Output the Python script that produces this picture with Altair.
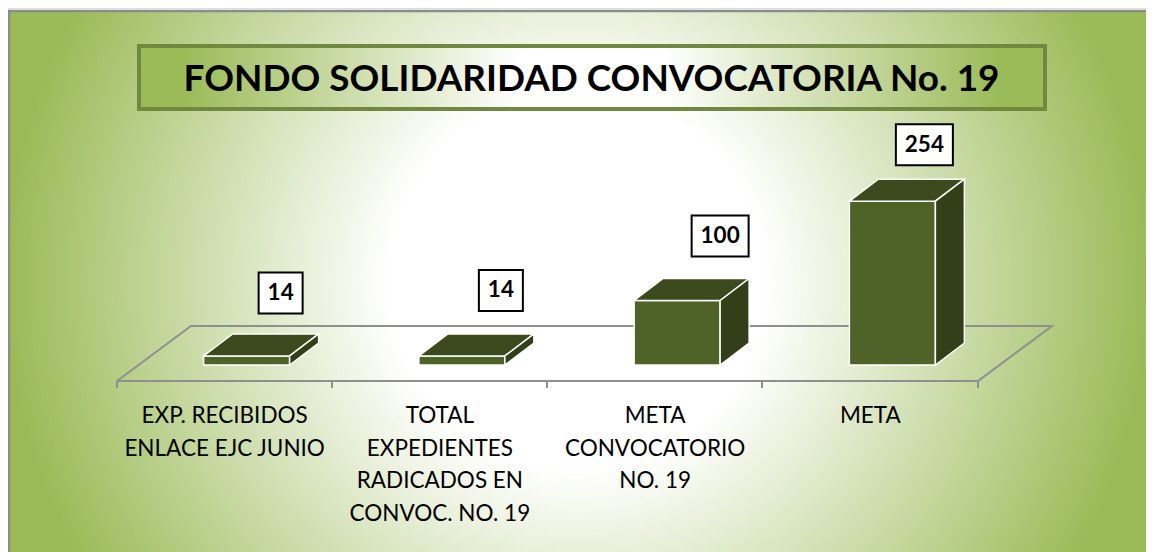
import altair as alt
import pandas as pd

categories = ["EXP. RECIBIDOS\nENLACE EJC JUNIO",
              "TOTAL\nEXPEDIENTES\nRADICADOS EN\nCONVOC. NO. 19",
              "META\nCONVOCATORIO\nNO. 19",
              "META"]
values = [14, 14, 100, 254]
title_text = "FONDO SOLIDARIDAD CONVOCATORIA No. 19"

W, H = 1138, 544
PXU = 0.645            # px per value unit
CAT = 215.25           # px per category
X0_PAGE, Y0_PAGE = 117, 365
x_domain = [(8 - X0_PAGE) / CAT, (8 + W - X0_PAGE) / CAT]
y_domain = [(Y0_PAGE - (8 + H)) / PXU, (Y0_PAGE - 8) / PXU]
xs = alt.Scale(domain=x_domain, range=[0, W], nice=False, zero=False)
ys = alt.Scale(domain=y_domain, range=[H, 0], nice=False, zero=False)
X = lambda px: (px - X0_PAGE) / CAT
Y = lambda py: (Y0_PAGE - py) / PXU

BAR_W = 86 / CAT
BAR_SHIFT = 22 / CAT
DX = 29 / CAT
DY = 22 / PXU

# label-box placement relative to bar (px)
box_dx = [34, 39, 43, 32]
box_dy = [63, 65.5, 64.5, 56.5]
box_w = [44, 44, 57, 57]
BOX_H = 41

front, top, side, boxes, cats = [], [], [], [], []
for i, (c, v) in enumerate(zip(categories, values)):
    x0 = i + 0.5 + BAR_SHIFT - BAR_W / 2
    x1 = x0 + BAR_W
    front.append(dict(x=x0, x2=x1, y=v, y2=0))
    side += [dict(b=i, x=x1, y=v, y2=0), dict(b=i, x=x1 + DX, y=v + DY, y2=DY)]
    top += [dict(b=i, x=x0, y=v, y2=v),
            dict(b=i, x=x0 + DX, y=v + DY, y2=v),
            dict(b=i, x=x1, y=v + DY, y2=v),
            dict(b=i, x=x1 + DX, y=v + DY, y2=v + DY)]
    cx = (x0 + x1) / 2 + box_dx[i] / CAT
    cy = v + box_dy[i] / PXU
    boxes.append(dict(x=cx - box_w[i] / 2 / CAT, x2=cx + box_w[i] / 2 / CAT,
                      y=cy - BOX_H / 2 / PXU, y2=cy + BOX_H / 2 / PXU,
                      cx=cx, cy=cy, label=str(v)))
    cats.append(dict(x=i + 0.5, y=Y(405), label=c))

GREEN = "#9bbb59"
GRID = "#8f8f8f"
STROKE = "white"


def rect_layer(rows, **mark):
    return alt.Chart(pd.DataFrame(rows)).mark_rect(**mark).encode(
        x=alt.X("x:Q", scale=xs, axis=None), x2="x2:Q",
        y=alt.Y("y:Q", scale=ys, axis=None), y2="y2:Q")


def area_layer(rows, color):
    return alt.Chart(pd.DataFrame(rows)).mark_area(
        fill=color, stroke=STROKE, strokeWidth=1.5, opacity=1, interpolate="linear"
    ).encode(x=alt.X("x:Q", scale=xs, axis=None),
             y=alt.Y("y:Q", scale=ys, axis=None), y2="y2:Q",
             detail="b:N")


def line_layer(segments, width=2, color=GRID):
    rows = [dict(s=k, o=j, x=X(p[0]), y=Y(p[1]))
            for k, seg in enumerate(segments) for j, p in enumerate(seg)]
    return alt.Chart(pd.DataFrame(rows)).mark_line(
        color=color, strokeWidth=width, interpolate="linear"
    ).encode(x=alt.X("x:Q", scale=xs, axis=None),
             y=alt.Y("y:Q", scale=ys, axis=None),
             detail="s:N", order="o:Q")


bg = rect_layer(
    [dict(x=X(8), x2=X(1146), y=Y(10), y2=Y(552))],
    fill=alt.RadialGradient(
        gradient="radial", x1=0.5, y1=0.5, r1=0, x2=0.5, y2=0.5, r2=0.5,
        stops=[alt.GradientStop(color="#ffffff", offset=0),
               alt.GradientStop(color="#ffffff", offset=0.33),
               alt.GradientStop(color=GREEN, offset=1)]),
)
frame = line_layer([[(9, 552), (9, 11), (1146, 11)]], width=2.5, color="#8c8c8c")

title_box = rect_layer(
    [dict(x=X(139), x2=X(1045), y=Y(46), y2=Y(109))],
    fill=alt.LinearGradient(
        gradient="linear", x1=0, y1=0, x2=1, y2=0,
        stops=[alt.GradientStop(color=GREEN, offset=0),
               alt.GradientStop(color=GREEN, offset=0.05),
               alt.GradientStop(color="#ffffff", offset=0.42),
               alt.GradientStop(color="#ffffff", offset=0.58),
               alt.GradientStop(color=GREEN, offset=0.95),
               alt.GradientStop(color=GREEN, offset=1)]),
    stroke="#70883f", strokeWidth=4,
)
title = alt.Chart(pd.DataFrame([dict(x=X(591.5), y=Y(80), t=title_text)])).mark_text(
    font="Lato", fontSize=36.9, fontWeight="bold", color="black", align="center", baseline="middle"
).encode(x=alt.X("x:Q", scale=xs, axis=None), y=alt.Y("y:Q", scale=ys, axis=None), text="t:N")

floor = line_layer(
    [[(117, 381), (191, 326), (1052, 326), (978, 381), (117, 381)]] +
    [[(t, 381), (t, 388)] for t in (117, 332, 547, 762, 978)]
)

label_rects = rect_layer(boxes, fill="white", stroke="black", strokeWidth=2)
label_text = alt.Chart(pd.DataFrame(boxes)).mark_text(
    font="Lato", fontSize=22.5, fontWeight="bold", color="black", align="center", baseline="middle"
).encode(x=alt.X("cx:Q", scale=xs, axis=None), y=alt.Y("cy:Q", scale=ys, axis=None), text="label:N")

cat_text = alt.Chart(pd.DataFrame(cats)).mark_text(
    font="Lato", fontSize=22.5, color="black", align="center", baseline="top",
    lineBreak="\n", lineHeight=32.5
).encode(x=alt.X("x:Q", scale=xs, axis=None), y=alt.Y("y:Q", scale=ys, axis=None), text="label:N")

chart = alt.layer(
    bg, frame, title_box, title, floor,
    rect_layer(front, fill="#4f6228", stroke=STROKE, strokeWidth=1.5),
    area_layer(top, "#3d4a1e"),
    area_layer(side, "#333f18"),
    label_rects, label_text, cat_text,
).properties(
    width=W, height=H, padding=0, autosize=alt.AutoSizeParams(type="none")
).configure_view(stroke=None).configure(background="white")

chart.save("out.html", embed_options={"renderer": "svg", "actions": False})
